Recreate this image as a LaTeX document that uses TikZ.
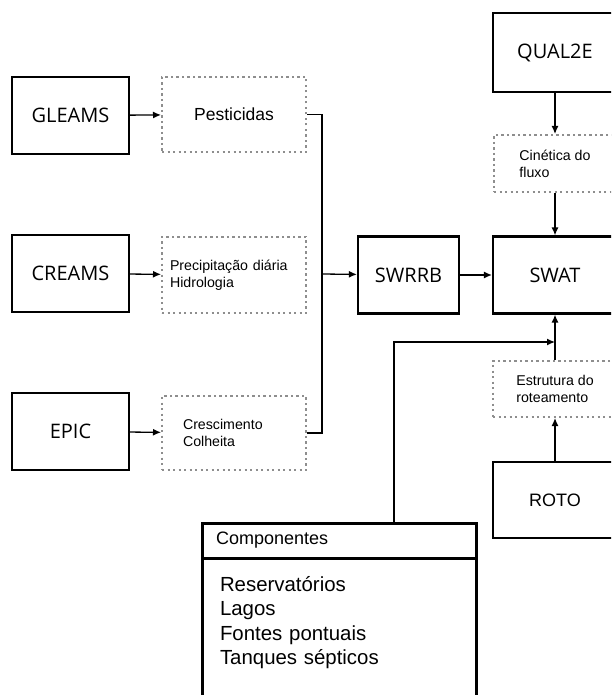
\documentclass[tikz,border=0pt]{standalone}
\usepackage{fontspec}
\setmainfont{Liberation Sans}
\newfontfamily\opensans{Open Sans}
\usetikzlibrary{arrows.meta}
\definecolor{dotgray}{HTML}{8E8E8E}
\tikzset{
  model/.style={draw, line width=2.2pt, font=\opensans\fontsize{20}{24}\selectfont},
  proc/.style={draw=dotgray, line width=2pt, dash pattern=on 2.2pt off 3.3pt, align=left, font=\fontsize{14.2}{16.8}\selectfont},
  conn/.style={line width=1.3pt, -{Latex[length=8pt,width=7pt]}}
}
\begin{document}
\begin{tikzpicture}[x=1pt, y=-1pt]
\useasboundingbox (0,0) rectangle (611,695);
\clip (0,0) rectangle (611,695);
\node[model, minimum height=77pt, minimum width=117pt] (gleams) at (70.5,115.5) {GLEAMS};
\node[model, minimum height=77pt, minimum width=117pt] (creams) at (70.5,273.5) {CREAMS};
\node[model, minimum height=77pt, minimum width=117pt] (epic) at (70.5,431.5) {EPIC};
\node[proc, minimum height=75pt, minimum width=144pt, font=\fontsize{17.5}{20}\selectfont] (pest) at (234,114.5) {Pesticidas};
\node[proc, minimum height=76pt, text width=128pt, inner xsep=8pt] (precip) at (234,275) {Precipitação diária\\Hidrologia};
\node[proc, minimum height=74pt, text width=102pt, inner xsep=21pt] (cresc) at (234,433) {Crescimento\\Colheita};
\node[model, minimum height=77pt, minimum width=101pt] (swrrb) at (408.5,275) {SWRRB};
\node[model, minimum height=79pt, minimum width=124pt] (qual) at (555,52.5) {QUAL2E};
\node[proc, minimum height=57pt, minimum width=122pt] (cinet) at (555,163.5) {Cinética do\\fluxo};
\node[model, minimum height=77pt, minimum width=124pt] (swat) at (555,275) {SWAT};
\node[proc, minimum height=56pt, minimum width=124pt] (estr) at (555,389) {Estrutura do\\roteamento};
\node[model, minimum height=76pt, minimum width=124pt, font=\fontsize{18}{22}\selectfont] (roto) at (555,500) {ROTO};
\node[draw, line width=3pt, outer sep=0pt, minimum height=35pt, text width=246pt, inner xsep=14pt, align=left, font=\fontsize{18}{21}\selectfont] (comphead) at (339,540.5) {Componentes};
\node[draw, line width=3pt, outer sep=0pt, anchor=north west, text width=238pt, inner xsep=18pt, inner ysep=0pt, text height=33pt, text depth=140pt, align=left, font=\fontsize{20.4}{24.5}\selectfont] (compbody) at (comphead.south west) {Reservatórios\\Lagos\\Fontes pontuais\\Tanques sépticos};
\coordinate (bus) at (322,274);
\coordinate (merge) at (555,342);
%%%%%%%%%%%%%
\draw[conn] (gleams) -- (pest);
\draw[conn] (creams) -- (precip);
\draw[conn] (epic) -- (cresc);
\draw[line width=1.3pt] (pest.east) -| (bus);
\draw[line width=1.3pt] (cresc.east) -| (bus);
\draw[conn] (bus) -- (swrrb);
\draw[conn] (swrrb) -- (swat);
%%%%%%%%%%%%%
\draw[conn] (qual) -- (cinet);
\draw[conn] (cinet) -- (swat);
\draw[conn] (roto) -- (estr);
\draw[conn] (estr) -- (swat);
\draw[conn] (comphead.north -| 394,0) |- (merge);
\end{tikzpicture}
\end{document}
